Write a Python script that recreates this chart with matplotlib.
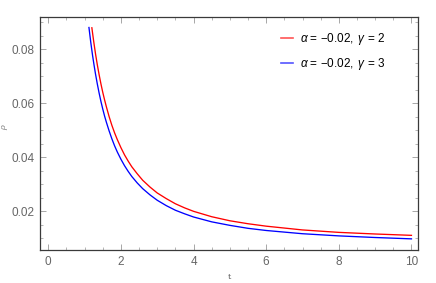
import matplotlib
matplotlib.use("Agg")
import matplotlib.pyplot as plt
from matplotlib.lines import Line2D
from matplotlib.ticker import MultipleLocator, FixedLocator

plt.rcParams["font.family"] = ["Liberation Sans", "DejaVu Sans"]
plt.rcParams["mathtext.fontset"] = "custom"
plt.rcParams["mathtext.it"] = "Liberation Sans:italic"
plt.rcParams["mathtext.rm"] = "Liberation Sans"

# Data
t_red = [1.2, 1.25, 1.3, 1.35, 1.4, 1.45, 1.5, 1.55, 1.6, 1.675, 1.75, 1.825, 1.9,
         2.0, 2.1, 2.2, 2.3, 2.45, 2.6, 2.8, 3.0, 3.25, 3.5, 3.75, 4.0,
         4.5, 5.0, 5.5, 6.0, 7.0, 8.0, 9.0, 10.0]
rho_red = [0.0880, 0.0830, 0.0784, 0.0743, 0.0706, 0.0672, 0.0641, 0.0613, 0.0587,
           0.0551, 0.0519, 0.0491, 0.0466, 0.0436, 0.0409, 0.0386, 0.0365, 0.0339,
           0.0315, 0.0290, 0.0268, 0.0247, 0.0228, 0.0213, 0.0200,
           0.0180, 0.0165, 0.0154, 0.0145, 0.0131, 0.0122, 0.0116, 0.0111]
t_blue = [1.12, 1.17, 1.22, 1.26, 1.3, 1.35, 1.4, 1.45, 1.5, 1.55, 1.6, 1.675, 1.75,
          1.825, 1.9, 2.0, 2.1, 2.2, 2.3, 2.45, 2.6, 2.8, 3.0, 3.25, 3.5, 3.75,
          4.0, 4.5, 5.0, 5.5, 6.0, 7.0, 8.0, 9.0, 10.0]
rho_blue = [0.0881, 0.0826, 0.0777, 0.0742, 0.0709, 0.0672, 0.0638, 0.0607, 0.0579,
            0.0553, 0.0530, 0.0498, 0.0469, 0.0443, 0.0420, 0.0393, 0.0369, 0.0348,
            0.0329, 0.0305, 0.0284, 0.0261, 0.0241, 0.0221, 0.0204, 0.0191,
            0.0179, 0.0161, 0.0148, 0.0137, 0.0129, 0.0117, 0.0109, 0.0103, 0.0098]
labels = [r"$\alpha$ = −0.02, $\,\gamma$ = 2", r"$\alpha$ = −0.02, $\,\gamma$ = 3"]
x_ticks = [0, 2, 4, 6, 8, 10]
y_ticks = [0.02, 0.04, 0.06, 0.08]

fig = plt.figure(figsize=(4.36, 2.83), dpi=100)
ax = fig.add_axes([0.0924, 0.1166, 0.8663, 0.8244])

ax.plot(t_red, rho_red, color="#ff0000", lw=0.95)
ax.plot(t_blue, rho_blue, color="#0000ff", lw=0.95)

ax.set_xlim(-0.22, 10.18)
ax.set_ylim(0.00567, 0.0921)

frame_col = "#3a3a3a"
for s in ax.spines.values():
    s.set_color(frame_col)
    s.set_linewidth(0.9)

ax.xaxis.set_major_locator(FixedLocator(x_ticks))
ax.yaxis.set_major_locator(FixedLocator(y_ticks))
ax.xaxis.set_minor_locator(MultipleLocator(0.5))
ax.yaxis.set_minor_locator(MultipleLocator(0.005))
ax.set_xticklabels([str(v) for v in x_ticks])
ax.set_yticklabels([f"{v:.2f}" for v in y_ticks])
ax.tick_params(which="both", direction="in", top=True, right=True,
               color="#999999", labelcolor="#666666", labelsize=8.5)
ax.tick_params(which="major", length=4, width=0.6, pad=4)
ax.tick_params(which="minor", length=2, width=0.5)

ax.set_xlabel("t", fontsize=6, color="#555555", family="DejaVu Serif")
ax.xaxis.set_label_coords(0.5, -0.098)
ax.set_ylabel(r"$\rho$", fontsize=6, color="#777777", rotation=90)
ax.yaxis.set_label_coords(-0.079, 0.53)

handles = [Line2D([], [], color="#ff5555", lw=1.2),
           Line2D([], [], color="#5555ff", lw=1.2)]
ax.legend(handles, labels, loc="upper left", bbox_to_anchor=(0.637, 0.94),
          borderaxespad=0, borderpad=0,
          frameon=False, fontsize=8.5, handlelength=1.05, handletextpad=0.55,
          labelspacing=0.8)

fig.savefig("out.png", dpi=100)
